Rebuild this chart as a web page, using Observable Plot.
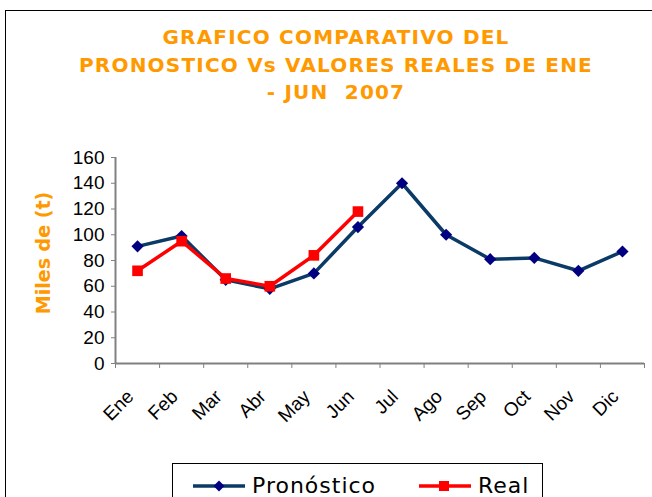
<!DOCTYPE html>
<html>
<head>
<meta charset="utf-8">
<script src="https://cdn.jsdelivr.net/npm/d3@7"></script>
<script src="https://cdn.jsdelivr.net/npm/@observablehq/plot@0.6"></script>
<style>
  html, body { margin: 0; padding: 0; background: #fff; width: 652px; height: 497px; overflow: hidden; position: relative; }
  #frame { position: absolute; left: 5px; top: 10px; width: 760px; height: 700px; border: 1.5px solid #000; box-sizing: border-box; }
  #title { position: absolute; left: 10px; top: 24px; width: 652px; text-align: center; font-family: "DejaVu Sans", sans-serif; font-weight: bold; font-size: 20px; letter-spacing: 1.2px; line-height: 27.5px; color: #FF9900; }
  #ylabel { position: absolute; left: 43px; top: 253px; transform: translate(-50%, -50%) rotate(-90deg); white-space: nowrap; font-family: "DejaVu Sans", sans-serif; font-weight: bold; font-size: 19px; color: #FF9900; }
  #chart { position: absolute; left: 0; top: 0; }
  #legend { position: absolute; left: 172px; top: 463px; width: 371px; height: 60px; border: 1px solid #000; box-sizing: border-box; background: #fff; font-family: "DejaVu Sans", sans-serif; font-size: 22px; letter-spacing: 1px; color: #000; }
  .item { position: absolute; top: 12px; height: 20px; display: flex; align-items: center; }
  .item span { line-height: 20px; }
  .item svg { margin-right: 5px; }
</style>
</head>
<body>
<div id="frame"></div>
<div id="title">GRAFICO COMPARATIVO DEL<br>PRONOSTICO Vs VALORES REALES DE ENE<br>- JUN&nbsp; 2007</div>
<div id="chart"></div>
<div id="ylabel">Miles de (t)</div>
<div id="legend">
  <div class="item" style="left:18px"><svg width="56" height="16"><line x1="2" y1="8" x2="54" y2="8" stroke="#0B3A66" stroke-width="3.5"/><path d="M28,2.5 L33.5,8 L28,13.5 L22.5,8 Z" fill="#000080"/></svg><span id="lg1"></span></div>
  <div class="item" style="left:244px"><svg width="56" height="16"><line x1="2" y1="8" x2="54" y2="8" stroke="#FF0000" stroke-width="3.5"/><rect x="22" y="3" width="10" height="10" fill="#FF0000"/></svg><span id="lg2"></span></div>
</div>
<script>
const months = ["Ene","Feb","Mar","Abr","May","Jun","Jul","Ago","Sep","Oct","Nov","Dic"];
const pronostico = [91, 99, 65, 58, 70, 106, 140, 100, 81, 82, 72, 87];
const real = [72, 95, 66, 60, 84, 118];
const seriesNames = ["Pronóstico", "Real"];
const yTicks = [0, 20, 40, 60, 80, 100, 120, 140, 160];

document.getElementById("lg1").textContent = seriesNames[0];
document.getElementById("lg2").textContent = seriesNames[1];

const xc = (d, i) => i + 0.5;
const boundaries = d3.range(0, months.length + 1);
const centers = months.map((m, i) => i + 0.5);

const chart = Plot.plot({
  width: 652,
  height: 497,
  marginLeft: 115,
  marginRight: 8,
  marginTop: 157,
  marginBottom: 134,
  x: {domain: [0, months.length]},
  y: {domain: [0, 160]},
  style: {fontFamily: "'Liberation Sans', Arial, sans-serif", fontSize: "19px", color: "#000", background: "transparent", overflow: "visible"},
  marks: [
    Plot.ruleX([0], {y1: 0, y2: 160, stroke: "#808080", strokeWidth: 2}),
    Plot.ruleY([0], {stroke: "#808080", strokeWidth: 2}),
    Plot.axisY({ticks: yTicks, tickSize: 4, tickPadding: 7, stroke: "#808080", label: null}),
    Plot.axisX({ticks: boundaries, tickSize: 5, tickFormat: () => "", stroke: "#808080", label: null}),
    Plot.axisX({ticks: centers, tickSize: 0, tickPadding: 10, tickRotate: -45, dx: -7, dy: 20, fontSize: 19, tickFormat: v => months[Math.floor(v)], label: null}),
    Plot.line(pronostico, {x: xc, y: d => d, stroke: "#0B3A66", strokeWidth: 3.5}),
    Plot.dot(pronostico, {x: xc, y: d => d, symbol: "diamond2", r: 5.5, fill: "#000080", stroke: "none"}),
    Plot.line(real, {x: xc, y: d => d, stroke: "#FF0000", strokeWidth: 3.5}),
    Plot.dot(real, {x: xc, y: d => d, symbol: "square", r: 6, fill: "#FF0000", stroke: "none"})
  ]
});
document.getElementById("chart").appendChild(chart);
</script>
</body>
</html>
